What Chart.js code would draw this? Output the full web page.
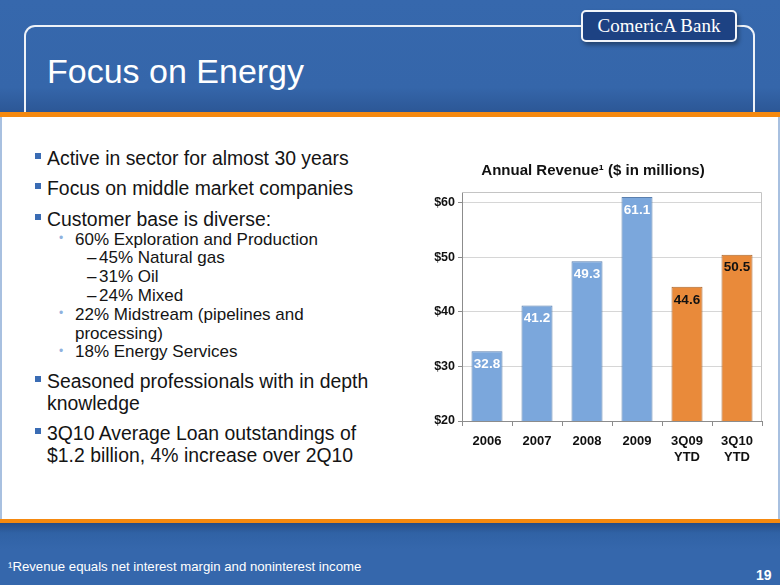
<!DOCTYPE html>
<html><head><meta charset="utf-8">
<script src="https://cdn.jsdelivr.net/npm/chart.js@4.4.0/dist/chart.umd.min.js"></script>
<style>
body{margin:0;background:#3567ac;}
#slide{position:relative;width:780px;height:585px;overflow:hidden;background:#3567ac;font-family:"Liberation Sans",Arial,Helvetica,sans-serif;}
#hdr{position:absolute;left:0;top:0;width:780px;height:112px;background:linear-gradient(to bottom,#3668ad 0%,#3566aa 78%,#2c5796 100%);}
#outline{position:absolute;left:24px;top:25px;width:727px;height:100px;border:2px solid #eef2f8;border-bottom:none;border-radius:11px 11px 0 0;}
#logo{position:absolute;left:581px;top:10px;width:152px;height:28px;background:#1d4283;border:2px solid #f2f5fa;border-radius:5px;box-shadow:2px 3px 4px rgba(0,0,0,0.35);color:#fff;font-family:"Liberation Serif","Times New Roman",serif;font-size:19px;line-height:28px;text-align:center;}
#title{position:absolute;left:47px;top:51px;color:#fff;font-size:34px;line-height:40px;white-space:nowrap;}
#band1{position:absolute;left:0;top:112px;width:780px;height:5px;background:#f5890f;}
#white{position:absolute;left:0;top:117px;width:780px;height:402px;background:#fff;border-left:2px solid #a8c0e0;border-right:2px solid #a8c0e0;box-sizing:border-box;}
#band2{position:absolute;left:0;top:519px;width:780px;height:4px;background:#f5890f;}
#ftr{position:absolute;left:0;top:523px;width:780px;height:62px;background:linear-gradient(to bottom,#254c86 0px,#3062a5 10px,#3567ac 26px);}
.ln{position:absolute;white-space:nowrap;color:#141414;}
.m{font-size:19.4px;line-height:22px;left:47px;}
.s{font-size:17px;line-height:19px;left:75px;}
.d{font-size:17px;line-height:19px;left:99px;}
.sq{position:absolute;left:35px;width:6px;height:6px;background:#3a6cb4;}
.dot{position:absolute;left:59px;color:#8fb2de;font-size:12px;line-height:19px;}
.dash{position:absolute;left:87px;color:#141414;font-size:17px;line-height:19px;}
#foot{position:absolute;left:8px;top:558px;color:#fff;font-size:13.2px;line-height:18px;white-space:nowrap;}
#pg{position:absolute;left:756px;top:566px;color:#fff;font-size:14px;font-weight:bold;line-height:18px;}
#cv{position:absolute;left:424px;top:145px;}
</style></head>
<body><div id="slide">
<div id="hdr"></div>
<div id="outline"></div>
<div id="logo">ComericA Bank</div>
<div id="title">Focus on Energy</div>
<div id="band1"></div>
<div id="white"></div>
<div id="band2"></div>
<div id="ftr"></div>

<div class="sq" style="top:153px"></div><div class="ln m" style="top:147px">Active in sector for almost 30 years</div>
<div class="sq" style="top:183px"></div><div class="ln m" style="top:177px">Focus on middle market companies</div>
<div class="sq" style="top:214px"></div><div class="ln m" style="top:208px">Customer base is diverse:</div>
<div class="dot" style="top:229px">•</div><div class="ln s" style="top:229.5px">60% Exploration and Production</div>
<div class="dash" style="top:248px">–</div><div class="ln d" style="top:248px">45% Natural gas</div>
<div class="dash" style="top:266.5px">–</div><div class="ln d" style="top:266.5px">31% Oil</div>
<div class="dash" style="top:285.5px">–</div><div class="ln d" style="top:285.5px">24% Mixed</div>
<div class="dot" style="top:304px">•</div><div class="ln s" style="top:304.5px">22% Midstream (pipelines and</div>
<div class="ln s" style="top:324px">processing)</div>
<div class="dot" style="top:342px">•</div><div class="ln s" style="top:342px">18% Energy Services</div>
<div class="sq" style="top:376px"></div><div class="ln m" style="top:370px">Seasoned professionals with in depth</div>
<div class="ln m" style="top:392px">knowledge</div>
<div class="sq" style="top:428px"></div><div class="ln m" style="top:422px">3Q10 Average Loan outstandings of</div>
<div class="ln m" style="top:444px">$1.2 billion, 4% increase over 2Q10</div>

<canvas id="cv" width="354" height="335"></canvas>
<div id="foot">¹Revenue equals net interest margin and noninterest income</div>
<div id="pg">19</div>
</div>
<script>
const categories = ['2006', '2007', '2008', '2009', ['3Q09', 'YTD'], ['3Q10', 'YTD']];
const revenue = [32.8, 41.2, 49.3, 61.1, 44.6, 50.5];
const yTickValues = [20, 30, 40, 50, 60];
const chartTitle = 'Annual Revenue¹ ($ in millions)';

const FONT = '"Liberation Sans", Arial, Helvetica, sans-serif';
Chart.defaults.font.family = FONT;

const framePlugin = {
  id: 'frame',
  beforeDatasetsDraw(chart) {
    const a = chart.chartArea, c = chart.ctx;
    c.save();
    c.strokeStyle = '#c4c4c4';
    c.lineWidth = 1;
    c.beginPath();
    c.moveTo(a.left, a.top + 0.5);
    c.lineTo(a.right - 0.5, a.top + 0.5);
    c.lineTo(a.right - 0.5, a.bottom);
    c.stroke();
    c.restore();
  }
};
const labelPlugin = {
  id: 'vlabels',
  afterDatasetsDraw(chart) {
    const c = chart.ctx;
    const meta = chart.getDatasetMeta(0);
    c.save();
    c.font = 'bold 13.5px ' + FONT;
    c.textAlign = 'center';
    c.textBaseline = 'middle';
    meta.data.forEach((bar, i) => {
      c.fillStyle = i < 4 ? '#ffffff' : '#111111';
      c.fillText(revenue[i].toFixed(1), bar.x, bar.y + 13);
    });
    c.restore();
  }
};

new Chart(document.getElementById('cv'), {
  type: 'bar',
  data: {
    labels: categories,
    datasets: [{
      data: revenue,
      backgroundColor: revenue.map((v, i) => i < 4 ? '#7ba7dc' : '#e98a3a'),
      borderColor: revenue.map((v, i) => i < 4 ? '#5a7fae' : '#a9652d'),
      borderWidth: 1,
      borderSkipped: false,
      barPercentage: 0.62,
      categoryPercentage: 1
    }]
  },
  options: {
    responsive: false,
    animation: false,
    layout: { padding: { left: 0, right: 16, top: 0, bottom: 0 } },
    plugins: {
      legend: { display: false },
      tooltip: { enabled: false },
      title: {
        display: true, text: chartTitle, color: '#111',
        font: { size: 15, weight: 'bold' },
        padding: { top: 17, bottom: 12 }
      }
    },
    scales: {
      x: {
        grid: { display: true, drawOnChartArea: false, tickLength: 5, tickColor: '#8c8c8c', offset: true },
        border: { color: '#8c8c8c' },
        ticks: { color: '#111', font: { size: 13, weight: 'bold' }, padding: 8, maxRotation: 0, autoSkip: false },
        afterFit(s) { s.height = 59; }
      },
      y: {
        min: 20, max: 62,
        afterBuildTicks(s) { s.ticks = yTickValues.map(v => ({ value: v })); },
        ticks: { color: '#111', font: { size: 12.5, weight: 'bold' }, padding: 3, callback: v => '$' + v },
        grid: { color: '#d6d6d6', tickLength: 4, tickColor: '#8c8c8c' },
        border: { color: '#8c8c8c' },
        afterFit(s) { s.width = 38; }
      }
    }
  },
  plugins: [framePlugin, labelPlugin]
});
</script>
</body></html>
